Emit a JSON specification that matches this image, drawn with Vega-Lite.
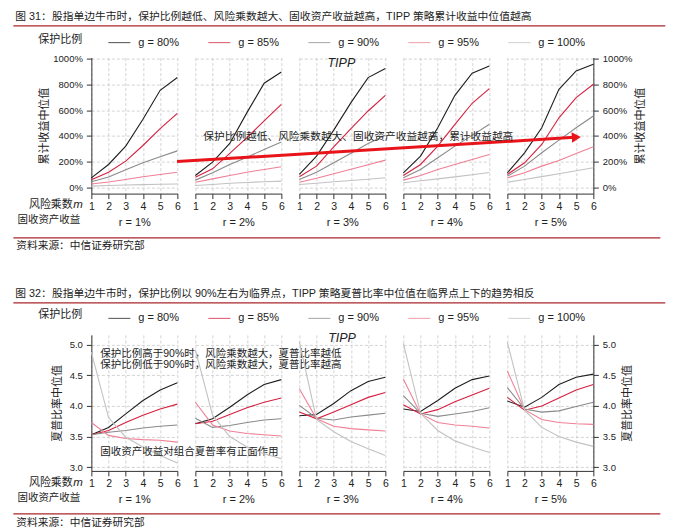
{
"$schema": "https://vega.github.io/schema/vega-lite/v6.json",
"autosize": {"type": "pad"},
"padding": {"left": 12.35, "top": 10.6, "right": 0, "bottom": 0},
"bounds": "flush",
"columns": 5,
"spacing": {"row": 141.3, "column": 18},
"resolve": {"scale": {"color": "independent"}},
"datasets": {
"cum": [
{"r":1,"g":"80%","m":1,"v":73},{"r":1,"g":"80%","m":2,"v":177},{"r":1,"g":"80%","m":3,"v":320},{"r":1,"g":"80%","m":4,"v":529},{"r":1,"g":"80%","m":5,"v":755},{"r":1,"g":"80%","m":6,"v":855},
{"r":1,"g":"85%","m":1,"v":57},{"r":1,"g":"85%","m":2,"v":117},{"r":1,"g":"85%","m":3,"v":203},{"r":1,"g":"85%","m":4,"v":325},{"r":1,"g":"85%","m":5,"v":456},{"r":1,"g":"85%","m":6,"v":575},
{"r":1,"g":"90%","m":1,"v":42},{"r":1,"g":"90%","m":2,"v":80},{"r":1,"g":"90%","m":3,"v":136},{"r":1,"g":"90%","m":4,"v":190},{"r":1,"g":"90%","m":5,"v":237},{"r":1,"g":"90%","m":6,"v":283},
{"r":1,"g":"95%","m":1,"v":25},{"r":1,"g":"95%","m":2,"v":40},{"r":1,"g":"95%","m":3,"v":60},{"r":1,"g":"95%","m":4,"v":81},{"r":1,"g":"95%","m":5,"v":99},{"r":1,"g":"95%","m":6,"v":117},
{"r":1,"g":"100%","m":1,"v":8},{"r":1,"g":"100%","m":2,"v":13},{"r":1,"g":"100%","m":3,"v":17},{"r":1,"g":"100%","m":4,"v":20},{"r":1,"g":"100%","m":5,"v":23},{"r":1,"g":"100%","m":6,"v":25},
{"r":2,"g":"80%","m":1,"v":91},{"r":2,"g":"80%","m":2,"v":195},{"r":2,"g":"80%","m":3,"v":341},{"r":2,"g":"80%","m":4,"v":581},{"r":2,"g":"80%","m":5,"v":810},{"r":2,"g":"80%","m":6,"v":898},
{"r":2,"g":"85%","m":1,"v":78},{"r":2,"g":"85%","m":2,"v":143},{"r":2,"g":"85%","m":3,"v":264},{"r":2,"g":"85%","m":4,"v":386},{"r":2,"g":"85%","m":5,"v":516},{"r":2,"g":"85%","m":6,"v":646},
{"r":2,"g":"90%","m":1,"v":55},{"r":2,"g":"90%","m":2,"v":112},{"r":2,"g":"90%","m":3,"v":177},{"r":2,"g":"90%","m":4,"v":234},{"r":2,"g":"90%","m":5,"v":294},{"r":2,"g":"90%","m":6,"v":352},
{"r":2,"g":"95%","m":1,"v":39},{"r":2,"g":"95%","m":2,"v":65},{"r":2,"g":"95%","m":3,"v":91},{"r":2,"g":"95%","m":4,"v":117},{"r":2,"g":"95%","m":5,"v":138},{"r":2,"g":"95%","m":6,"v":159},
{"r":2,"g":"100%","m":1,"v":13},{"r":2,"g":"100%","m":2,"v":21},{"r":2,"g":"100%","m":3,"v":31},{"r":2,"g":"100%","m":4,"v":37},{"r":2,"g":"100%","m":5,"v":42},{"r":2,"g":"100%","m":6,"v":47},
{"r":3,"g":"80%","m":1,"v":99},{"r":3,"g":"80%","m":2,"v":242},{"r":3,"g":"80%","m":3,"v":445},{"r":3,"g":"80%","m":4,"v":659},{"r":3,"g":"80%","m":5,"v":854},{"r":3,"g":"80%","m":6,"v":925},
{"r":3,"g":"85%","m":1,"v":81},{"r":3,"g":"85%","m":2,"v":164},{"r":3,"g":"85%","m":3,"v":315},{"r":3,"g":"85%","m":4,"v":456},{"r":3,"g":"85%","m":5,"v":594},{"r":3,"g":"85%","m":6,"v":716},
{"r":3,"g":"90%","m":1,"v":60},{"r":3,"g":"90%","m":2,"v":117},{"r":3,"g":"90%","m":3,"v":190},{"r":3,"g":"90%","m":4,"v":264},{"r":3,"g":"90%","m":5,"v":341},{"r":3,"g":"90%","m":6,"v":405},
{"r":3,"g":"95%","m":1,"v":39},{"r":3,"g":"95%","m":2,"v":70},{"r":3,"g":"95%","m":3,"v":105},{"r":3,"g":"95%","m":4,"v":140},{"r":3,"g":"95%","m":5,"v":175},{"r":3,"g":"95%","m":6,"v":211},
{"r":3,"g":"100%","m":1,"v":21},{"r":3,"g":"100%","m":2,"v":31},{"r":3,"g":"100%","m":3,"v":42},{"r":3,"g":"100%","m":4,"v":52},{"r":3,"g":"100%","m":5,"v":62},{"r":3,"g":"100%","m":6,"v":73},
{"r":4,"g":"80%","m":1,"v":112},{"r":4,"g":"80%","m":2,"v":242},{"r":4,"g":"80%","m":3,"v":463},{"r":4,"g":"80%","m":4,"v":716},{"r":4,"g":"80%","m":5,"v":888},{"r":4,"g":"80%","m":6,"v":945},
{"r":4,"g":"85%","m":1,"v":91},{"r":4,"g":"85%","m":2,"v":177},{"r":4,"g":"85%","m":3,"v":320},{"r":4,"g":"85%","m":4,"v":490},{"r":4,"g":"85%","m":5,"v":654},{"r":4,"g":"85%","m":6,"v":768},
{"r":4,"g":"90%","m":1,"v":73},{"r":4,"g":"90%","m":2,"v":138},{"r":4,"g":"90%","m":3,"v":230},{"r":4,"g":"90%","m":4,"v":320},{"r":4,"g":"90%","m":5,"v":404},{"r":4,"g":"90%","m":6,"v":490},
{"r":4,"g":"95%","m":1,"v":55},{"r":4,"g":"95%","m":2,"v":91},{"r":4,"g":"95%","m":3,"v":138},{"r":4,"g":"95%","m":4,"v":177},{"r":4,"g":"95%","m":5,"v":216},{"r":4,"g":"95%","m":6,"v":255},
{"r":4,"g":"100%","m":1,"v":34},{"r":4,"g":"100%","m":2,"v":50},{"r":4,"g":"100%","m":3,"v":65},{"r":4,"g":"100%","m":4,"v":80},{"r":4,"g":"100%","m":5,"v":97},{"r":4,"g":"100%","m":6,"v":115},
{"r":5,"g":"80%","m":1,"v":112},{"r":5,"g":"80%","m":2,"v":268},{"r":5,"g":"80%","m":3,"v":463},{"r":5,"g":"80%","m":4,"v":763},{"r":5,"g":"80%","m":5,"v":906},{"r":5,"g":"80%","m":6,"v":958},
{"r":5,"g":"85%","m":1,"v":99},{"r":5,"g":"85%","m":2,"v":190},{"r":5,"g":"85%","m":3,"v":333},{"r":5,"g":"85%","m":4,"v":541},{"r":5,"g":"85%","m":5,"v":698},{"r":5,"g":"85%","m":6,"v":802},
{"r":5,"g":"90%","m":1,"v":86},{"r":5,"g":"90%","m":2,"v":164},{"r":5,"g":"90%","m":3,"v":268},{"r":5,"g":"90%","m":4,"v":367},{"r":5,"g":"90%","m":5,"v":463},{"r":5,"g":"90%","m":6,"v":555},
{"r":5,"g":"95%","m":1,"v":73},{"r":5,"g":"95%","m":2,"v":112},{"r":5,"g":"95%","m":3,"v":164},{"r":5,"g":"95%","m":4,"v":208},{"r":5,"g":"95%","m":5,"v":263},{"r":5,"g":"95%","m":6,"v":315},
{"r":5,"g":"100%","m":1,"v":39},{"r":5,"g":"100%","m":2,"v":60},{"r":5,"g":"100%","m":3,"v":82},{"r":5,"g":"100%","m":4,"v":105},{"r":5,"g":"100%","m":5,"v":128},{"r":5,"g":"100%","m":6,"v":151}
],
"sharpe": [
{"r":1,"g":"80%","m":1,"v":3.53},{"r":1,"g":"80%","m":2,"v":3.65},{"r":1,"g":"80%","m":3,"v":3.87},{"r":1,"g":"80%","m":4,"v":4.09},{"r":1,"g":"80%","m":5,"v":4.26},{"r":1,"g":"80%","m":6,"v":4.38},
{"r":1,"g":"85%","m":1,"v":3.53},{"r":1,"g":"85%","m":2,"v":3.60},{"r":1,"g":"85%","m":3,"v":3.73},{"r":1,"g":"85%","m":4,"v":3.85},{"r":1,"g":"85%","m":5,"v":3.95},{"r":1,"g":"85%","m":6,"v":4.03},
{"r":1,"g":"90%","m":1,"v":3.53},{"r":1,"g":"90%","m":2,"v":3.57},{"r":1,"g":"90%","m":3,"v":3.60},{"r":1,"g":"90%","m":4,"v":3.64},{"r":1,"g":"90%","m":5,"v":3.67},{"r":1,"g":"90%","m":6,"v":3.69},
{"r":1,"g":"95%","m":1,"v":3.73},{"r":1,"g":"95%","m":2,"v":3.52},{"r":1,"g":"95%","m":3,"v":3.47},{"r":1,"g":"95%","m":4,"v":3.45},{"r":1,"g":"95%","m":5,"v":3.44},{"r":1,"g":"95%","m":6,"v":3.41},
{"r":1,"g":"100%","m":1,"v":4.88},{"r":1,"g":"100%","m":2,"v":3.81},{"r":1,"g":"100%","m":3,"v":3.49},{"r":1,"g":"100%","m":4,"v":3.33},{"r":1,"g":"100%","m":5,"v":3.19},{"r":1,"g":"100%","m":6,"v":3.07},
{"r":2,"g":"80%","m":1,"v":3.71},{"r":2,"g":"80%","m":2,"v":3.79},{"r":2,"g":"80%","m":3,"v":3.98},{"r":2,"g":"80%","m":4,"v":4.18},{"r":2,"g":"80%","m":5,"v":4.35},{"r":2,"g":"80%","m":6,"v":4.43},
{"r":2,"g":"85%","m":1,"v":3.71},{"r":2,"g":"85%","m":2,"v":3.75},{"r":2,"g":"85%","m":3,"v":3.86},{"r":2,"g":"85%","m":4,"v":3.97},{"r":2,"g":"85%","m":5,"v":4.06},{"r":2,"g":"85%","m":6,"v":4.13},
{"r":2,"g":"90%","m":1,"v":3.80},{"r":2,"g":"90%","m":2,"v":3.65},{"r":2,"g":"90%","m":3,"v":3.68},{"r":2,"g":"90%","m":4,"v":3.73},{"r":2,"g":"90%","m":5,"v":3.77},{"r":2,"g":"90%","m":6,"v":3.79},
{"r":2,"g":"95%","m":1,"v":4.06},{"r":2,"g":"95%","m":2,"v":3.69},{"r":2,"g":"95%","m":3,"v":3.59},{"r":2,"g":"95%","m":4,"v":3.55},{"r":2,"g":"95%","m":5,"v":3.53},{"r":2,"g":"95%","m":6,"v":3.51},
{"r":2,"g":"100%","m":1,"v":4.92},{"r":2,"g":"100%","m":2,"v":3.85},{"r":2,"g":"100%","m":3,"v":3.50},{"r":2,"g":"100%","m":4,"v":3.33},{"r":2,"g":"100%","m":5,"v":3.22},{"r":2,"g":"100%","m":6,"v":3.14},
{"r":3,"g":"80%","m":1,"v":3.84},{"r":3,"g":"80%","m":2,"v":3.86},{"r":3,"g":"80%","m":3,"v":4.04},{"r":3,"g":"80%","m":4,"v":4.25},{"r":3,"g":"80%","m":5,"v":4.40},{"r":3,"g":"80%","m":6,"v":4.47},
{"r":3,"g":"85%","m":1,"v":3.90},{"r":3,"g":"85%","m":2,"v":3.79},{"r":3,"g":"85%","m":3,"v":3.90},{"r":3,"g":"85%","m":4,"v":4.02},{"r":3,"g":"85%","m":5,"v":4.14},{"r":3,"g":"85%","m":6,"v":4.22},
{"r":3,"g":"90%","m":1,"v":4.01},{"r":3,"g":"90%","m":2,"v":3.80},{"r":3,"g":"90%","m":3,"v":3.77},{"r":3,"g":"90%","m":4,"v":3.82},{"r":3,"g":"90%","m":5,"v":3.85},{"r":3,"g":"90%","m":6,"v":3.88},
{"r":3,"g":"95%","m":1,"v":4.28},{"r":3,"g":"95%","m":2,"v":3.79},{"r":3,"g":"95%","m":3,"v":3.67},{"r":3,"g":"95%","m":4,"v":3.63},{"r":3,"g":"95%","m":5,"v":3.61},{"r":3,"g":"95%","m":6,"v":3.59},
{"r":3,"g":"100%","m":1,"v":5.05},{"r":3,"g":"100%","m":2,"v":3.78},{"r":3,"g":"100%","m":3,"v":3.58},{"r":3,"g":"100%","m":4,"v":3.42},{"r":3,"g":"100%","m":5,"v":3.30},{"r":3,"g":"100%","m":6,"v":3.19},
{"r":4,"g":"80%","m":1,"v":3.95},{"r":4,"g":"80%","m":2,"v":3.91},{"r":4,"g":"80%","m":3,"v":4.09},{"r":4,"g":"80%","m":4,"v":4.29},{"r":4,"g":"80%","m":5,"v":4.43},{"r":4,"g":"80%","m":6,"v":4.49},
{"r":4,"g":"85%","m":1,"v":4.02},{"r":4,"g":"85%","m":2,"v":3.87},{"r":4,"g":"85%","m":3,"v":3.94},{"r":4,"g":"85%","m":4,"v":4.07},{"r":4,"g":"85%","m":5,"v":4.18},{"r":4,"g":"85%","m":6,"v":4.29},
{"r":4,"g":"90%","m":1,"v":4.17},{"r":4,"g":"90%","m":2,"v":3.88},{"r":4,"g":"90%","m":3,"v":3.83},{"r":4,"g":"90%","m":4,"v":3.87},{"r":4,"g":"90%","m":5,"v":3.91},{"r":4,"g":"90%","m":6,"v":3.97},
{"r":4,"g":"95%","m":1,"v":4.44},{"r":4,"g":"95%","m":2,"v":3.87},{"r":4,"g":"95%","m":3,"v":3.73},{"r":4,"g":"95%","m":4,"v":3.69},{"r":4,"g":"95%","m":5,"v":3.67},{"r":4,"g":"95%","m":6,"v":3.64},
{"r":4,"g":"100%","m":1,"v":5.02},{"r":4,"g":"100%","m":2,"v":3.88},{"r":4,"g":"100%","m":3,"v":3.60},{"r":4,"g":"100%","m":4,"v":3.43},{"r":4,"g":"100%","m":5,"v":3.33},{"r":4,"g":"100%","m":6,"v":3.24},
{"r":5,"g":"80%","m":1,"v":4.08},{"r":5,"g":"80%","m":2,"v":3.98},{"r":5,"g":"80%","m":3,"v":4.14},{"r":5,"g":"80%","m":4,"v":4.35},{"r":5,"g":"80%","m":5,"v":4.47},{"r":5,"g":"80%","m":6,"v":4.52},
{"r":5,"g":"85%","m":1,"v":4.14},{"r":5,"g":"85%","m":2,"v":3.93},{"r":5,"g":"85%","m":3,"v":4.00},{"r":5,"g":"85%","m":4,"v":4.13},{"r":5,"g":"85%","m":5,"v":4.26},{"r":5,"g":"85%","m":6,"v":4.35},
{"r":5,"g":"90%","m":1,"v":4.30},{"r":5,"g":"90%","m":2,"v":3.95},{"r":5,"g":"90%","m":3,"v":3.90},{"r":5,"g":"90%","m":4,"v":3.92},{"r":5,"g":"90%","m":5,"v":3.99},{"r":5,"g":"90%","m":6,"v":4.06},
{"r":5,"g":"95%","m":1,"v":4.57},{"r":5,"g":"95%","m":2,"v":3.94},{"r":5,"g":"95%","m":3,"v":3.78},{"r":5,"g":"95%","m":4,"v":3.73},{"r":5,"g":"95%","m":5,"v":3.71},{"r":5,"g":"95%","m":6,"v":3.70},
{"r":5,"g":"100%","m":1,"v":5.04},{"r":5,"g":"100%","m":2,"v":3.93},{"r":5,"g":"100%","m":3,"v":3.65},{"r":5,"g":"100%","m":4,"v":3.50},{"r":5,"g":"100%","m":5,"v":3.41},{"r":5,"g":"100%","m":6,"v":3.34}
]
},
"concat": [
{
 "width": 86, "height": 136,
 "layer": [
  {
   "data": {"name": "cum"},
   "transform": [{"filter": "datum.r == 1"}],
   "mark": {"type": "line"},
   "encoding": {
    "x": {"field": "m", "type": "quantitative", "scale": {"domain": [1, 6], "nice": false}, "axis": {"values": [1,2,3,4,5,6], "format": "d", "grid": true, "labelOverlap": false, "title": "r = 1%"}},
    "y": {"field": "v", "type": "quantitative", "scale": {"domain": [-50, 1010], "nice": false}, "axis": {"values": [0,200,400,600,800,1000], "labelExpr": "datum.value + '%'", "grid": true, "labelOverlap": false, "title": "累计收益中位值", "titlePadding": 3}},
    "color": {"field": "g", "type": "nominal", "scale": {"domain": ["80%","85%","90%","95%","100%"], "range": ["#1e1e1e","#d6203e","#8a8a8a","#f07f95","#c2c2c2"]},
     "legend": {"orient": "none", "legendX": -53, "legendY": -27, "direction": "horizontal", "title": "保护比例", "titleOrient": "left", "titlePadding": 25, "titleFontSize": 11, "titleFontWeight": "normal", "titleColor": "#222222", "labelFontSize": 11, "labelColor": "#222222", "labelOffset": 7, "labelExpr": "'g = ' + datum.label", "symbolType": "stroke", "symbolSize": 484, "symbolStrokeWidth": 2, "symbolOpacity": 0.7, "columnPadding": 26}}
   }
  },
  {"data": {"values": [{"t": "图 31：股指单边牛市时，保护比例越低、风险乘数越大、固收资产收益越高，TIPP 策略累计收益中位值越高"}]},
   "mark": {"type": "text", "align": "left", "baseline": "middle", "fontSize": 10.8},
   "encoding": {"x": {"datum": -3.419, "axis": {"values": [1,2,3,4,5,6], "format": "d", "grid": true, "labelOverlap": false, "title": "r = 1%"}}, "y": {"datum": 1327.2, "axis": {"values": [0,200,400,600,800,1000], "labelExpr": "datum.value + '%'", "grid": true, "labelOverlap": false, "title": "累计收益中位值", "titlePadding": 3}}, "text": {"field": "t"}}},
  {"data": {"values": [{"t": "rule"}]},
   "mark": {"type": "rule", "color": "#a8262b", "strokeWidth": 1.3},
   "encoding": {"x": {"datum": -3.535, "axis": {"values": [1,2,3,4,5,6], "format": "d", "grid": true, "labelOverlap": false, "title": "r = 1%"}}, "x2": {"datum": 34.37}, "y": {"datum": 1257.1, "axis": {"values": [0,200,400,600,800,1000], "labelExpr": "datum.value + '%'", "grid": true, "labelOverlap": false, "title": "累计收益中位值", "titlePadding": 3}}}},
  {"data": {"values": [{"t": "rule"}]},
   "mark": {"type": "rule", "color": "#a8262b", "strokeWidth": 1.3},
   "encoding": {"x": {"datum": -3.535, "axis": {"values": [1,2,3,4,5,6], "format": "d", "grid": true, "labelOverlap": false, "title": "r = 1%"}}, "x2": {"datum": 34.08}, "y": {"datum": -395.3, "axis": {"values": [0,200,400,600,800,1000], "labelExpr": "datum.value + '%'", "grid": true, "labelOverlap": false, "title": "累计收益中位值", "titlePadding": 3}}}},
  {"data": {"values": [{"t": "资料来源：中信证券研究部"}]},
   "mark": {"type": "text", "align": "left", "baseline": "middle", "fontSize": 10.7},
   "encoding": {"x": {"datum": -3.36, "axis": {"values": [1,2,3,4,5,6], "format": "d", "grid": true, "labelOverlap": false, "title": "r = 1%"}}, "y": {"datum": -457.6, "axis": {"values": [0,200,400,600,800,1000], "labelExpr": "datum.value + '%'", "grid": true, "labelOverlap": false, "title": "累计收益中位值", "titlePadding": 3}}, "text": {"field": "t"}}},
  {"data": {"values": [{"t": "风险乘数"}]},
   "mark": {"type": "text", "align": "right", "baseline": "middle", "fontSize": 11},
   "encoding": {"x": {"datum": -0.0756, "axis": {"values": [1,2,3,4,5,6], "format": "d", "grid": true, "labelOverlap": false, "title": "r = 1%"}}, "y": {"datum": -142, "axis": {"values": [0,200,400,600,800,1000], "labelExpr": "datum.value + '%'", "grid": true, "labelOverlap": false, "title": "累计收益中位值", "titlePadding": 3}}, "text": {"field": "t"}}},
  {"data": {"values": [{"t": "m"}]},
   "mark": {"type": "text", "align": "left", "baseline": "middle", "fontSize": 11.5, "fontStyle": "italic"},
   "encoding": {"x": {"datum": -0.0465, "axis": {"values": [1,2,3,4,5,6], "format": "d", "grid": true, "labelOverlap": false, "title": "r = 1%"}}, "y": {"datum": -142, "axis": {"values": [0,200,400,600,800,1000], "labelExpr": "datum.value + '%'", "grid": true, "labelOverlap": false, "title": "累计收益中位值", "titlePadding": 3}}, "text": {"field": "t"}}},
  {"data": {"values": [{"t": "固收资产收益"}]},
   "mark": {"type": "text", "align": "right", "baseline": "middle", "fontSize": 10.5},
   "encoding": {"x": {"datum": 0.36, "axis": {"values": [1,2,3,4,5,6], "format": "d", "grid": true, "labelOverlap": false, "title": "r = 1%"}}, "y": {"datum": -259, "axis": {"values": [0,200,400,600,800,1000], "labelExpr": "datum.value + '%'", "grid": true, "labelOverlap": false, "title": "累计收益中位值", "titlePadding": 3}}, "text": {"field": "t"}}}
 ]
},
{
 "width": 86, "height": 136,
 "data": {"name": "cum"},
 "transform": [{"filter": "datum.r == 2"}],
 "mark": {"type": "line"},
 "encoding": {
  "x": {"field": "m", "type": "quantitative", "scale": {"domain": [1, 6], "nice": false}, "axis": {"values": [1,2,3,4,5,6], "format": "d", "grid": true, "labelOverlap": false, "title": "r = 2%"}},
  "y": {"field": "v", "type": "quantitative", "scale": {"domain": [-50, 1010], "nice": false}, "axis": {"values": [0,200,400,600,800,1000], "grid": true, "labels": false, "ticks": false, "domain": false, "title": null}},
  "color": {"field": "g", "type": "nominal", "scale": {"domain": ["80%","85%","90%","95%","100%"], "range": ["#1e1e1e","#d6203e","#8a8a8a","#f07f95","#c2c2c2"]}, "legend": null}
 }
},
{
 "width": 86, "height": 136,
 "layer": [
  {
   "data": {"name": "cum"},
   "transform": [{"filter": "datum.r == 3"}],
   "mark": {"type": "line"},
   "encoding": {
    "x": {"field": "m", "type": "quantitative", "scale": {"domain": [1, 6], "nice": false}, "axis": {"values": [1,2,3,4,5,6], "format": "d", "grid": true, "labelOverlap": false, "title": "r = 3%"}},
    "y": {"field": "v", "type": "quantitative", "scale": {"domain": [-50, 1010], "nice": false}, "axis": {"values": [0,200,400,600,800,1000], "grid": true, "labels": false, "ticks": false, "domain": false, "title": null}},
    "color": {"field": "g", "type": "nominal", "scale": {"domain": ["80%","85%","90%","95%","100%"], "range": ["#1e1e1e","#d6203e","#8a8a8a","#f07f95","#c2c2c2"]}, "legend": null}
   }
  },
  {"data": {"values": [{"t": "TIPP"}]},
   "mark": {"type": "text", "align": "center", "baseline": "middle", "fontSize": 12.5, "fontStyle": "italic"},
   "encoding": {"x": {"datum": 3.442, "axis": {"values": [1,2,3,4,5,6], "format": "d", "grid": true, "labelOverlap": false, "title": "r = 3%"}}, "y": {"datum": 968.7, "axis": {"values": [0,200,400,600,800,1000], "grid": true, "labels": false, "ticks": false, "domain": false, "title": null}}, "text": {"field": "t"}}}
 ]
},
{
 "width": 86, "height": 136,
 "data": {"name": "cum"},
 "transform": [{"filter": "datum.r == 4"}],
 "mark": {"type": "line"},
 "encoding": {
  "x": {"field": "m", "type": "quantitative", "scale": {"domain": [1, 6], "nice": false}, "axis": {"values": [1,2,3,4,5,6], "format": "d", "grid": true, "labelOverlap": false, "title": "r = 4%"}},
  "y": {"field": "v", "type": "quantitative", "scale": {"domain": [-50, 1010], "nice": false}, "axis": {"values": [0,200,400,600,800,1000], "grid": true, "labels": false, "ticks": false, "domain": false, "title": null}},
  "color": {"field": "g", "type": "nominal", "scale": {"domain": ["80%","85%","90%","95%","100%"], "range": ["#1e1e1e","#d6203e","#8a8a8a","#f07f95","#c2c2c2"]}, "legend": null}
 }
},
{
 "width": 86, "height": 136,
 "layer": [
  {
   "data": {"name": "cum"},
   "transform": [{"filter": "datum.r == 5"}],
   "mark": {"type": "line"},
   "encoding": {
    "x": {"field": "m", "type": "quantitative", "scale": {"domain": [1, 6], "nice": false}, "axis": {"values": [1,2,3,4,5,6], "format": "d", "grid": true, "labelOverlap": false, "title": "r = 5%"}},
    "y": {"field": "v", "type": "quantitative", "scale": {"domain": [-50, 1010], "nice": false}, "axis": {"orient": "right", "values": [0,200,400,600,800,1000], "labelExpr": "datum.value + '%'", "grid": true, "labelOverlap": false, "title": "累计收益中位值", "titleAngle": 270, "titleBaseline": "top", "titlePadding": 3}},
    "color": {"field": "g", "type": "nominal", "scale": {"domain": ["80%","85%","90%","95%","100%"], "range": ["#1e1e1e","#d6203e","#8a8a8a","#f07f95","#c2c2c2"]}, "legend": null}
   }
  },
  {"data": {"values": [{"t": "arrow"}]},
   "mark": {"type": "rule", "color": "#e8141a", "strokeWidth": 3},
   "encoding": {"x": {"datum": -18.203, "axis": {"values": [1,2,3,4,5,6], "format": "d", "grid": true, "labelOverlap": false, "title": "r = 5%"}}, "y": {"datum": 199.4, "axis": {"orient": "right", "values": [0,200,400,600,800,1000], "labelExpr": "datum.value + '%'", "grid": true, "labelOverlap": false, "title": "累计收益中位值", "titleAngle": 270, "titleBaseline": "top", "titlePadding": 3}}, "x2": {"datum": 4.895}, "y2": {"datum": 388.3}}},
  {"data": {"values": [{"t": "arrow"}]},
   "mark": {"type": "point", "shape": "triangle-right", "filled": true, "color": "#e8141a", "opacity": 1, "size": 110, "angle": -3.5},
   "encoding": {"x": {"datum": 5.012, "axis": {"values": [1,2,3,4,5,6], "format": "d", "grid": true, "labelOverlap": false, "title": "r = 5%"}}, "y": {"datum": 389.3, "axis": {"orient": "right", "values": [0,200,400,600,800,1000], "labelExpr": "datum.value + '%'", "grid": true, "labelOverlap": false, "title": "累计收益中位值", "titleAngle": 270, "titleBaseline": "top", "titlePadding": 3}}}},
  {"data": {"values": [{"t": "保护比例越低、风险乘数越大、固收资产收益越高，累计收益越高"}]},
   "mark": {"type": "text", "align": "left", "baseline": "middle", "fontSize": 10.7},
   "encoding": {"x": {"datum": -16.674, "axis": {"values": [1,2,3,4,5,6], "format": "d", "grid": true, "labelOverlap": false, "title": "r = 5%"}}, "y": {"datum": 394.3, "axis": {"orient": "right", "values": [0,200,400,600,800,1000], "labelExpr": "datum.value + '%'", "grid": true, "labelOverlap": false, "title": "累计收益中位值", "titleAngle": 270, "titleBaseline": "top", "titlePadding": 3}}, "text": {"field": "t"}}}
 ]
},
{
 "width": 86, "height": 136,
 "layer": [
  {
   "data": {"name": "sharpe"},
   "transform": [{"filter": "datum.r == 1"}],
   "mark": {"type": "line"},
   "encoding": {
    "x": {"field": "m", "type": "quantitative", "scale": {"domain": [1, 6], "nice": false}, "axis": {"values": [1,2,3,4,5,6], "format": "d", "grid": true, "labelOverlap": false, "title": "r = 1%"}},
    "y": {"field": "v", "type": "quantitative", "scale": {"domain": [2.94, 5.16], "nice": false}, "axis": {"values": [3,3.5,4,4.5,5], "format": ".1f", "grid": true, "labelOverlap": false, "title": "夏普比率中位值", "titlePadding": 7}},
    "color": {"field": "g", "type": "nominal", "scale": {"domain": ["80%","85%","90%","95%","100%"], "range": ["#1e1e1e","#d6203e","#8a8a8a","#f07f95","#c2c2c2"]},
     "legend": {"orient": "none", "legendX": -53, "legendY": -28.5, "direction": "horizontal", "title": "保护比例", "titleOrient": "left", "titlePadding": 25, "titleFontSize": 11, "titleFontWeight": "normal", "titleColor": "#222222", "labelFontSize": 11, "labelColor": "#222222", "labelOffset": 7, "labelExpr": "'g = ' + datum.label", "symbolType": "stroke", "symbolSize": 484, "symbolStrokeWidth": 2, "symbolOpacity": 0.7, "columnPadding": 26}}
   }
  },
  {"data": {"values": [{"t": "图 32：股指单边牛市时，保护比例以 90%左右为临界点，TIPP 策略夏普比率中位值在临界点上下的趋势相反"}]},
   "mark": {"type": "text", "align": "left", "baseline": "middle", "fontSize": 10.8},
   "encoding": {"x": {"datum": -3.419, "axis": {"values": [1,2,3,4,5,6], "format": "d", "grid": true, "labelOverlap": false, "title": "r = 1%"}}, "y": {"datum": 5.829, "axis": {"values": [3,3.5,4,4.5,5], "format": ".1f", "grid": true, "labelOverlap": false, "title": "夏普比率中位值", "titlePadding": 7}}, "text": {"field": "t"}}},
  {"data": {"values": [{"t": "rule"}]},
   "mark": {"type": "rule", "color": "#a8262b", "strokeWidth": 1.3},
   "encoding": {"x": {"datum": -3.535, "axis": {"values": [1,2,3,4,5,6], "format": "d", "grid": true, "labelOverlap": false, "title": "r = 1%"}}, "x2": {"datum": 34.37}, "y": {"datum": 5.682, "axis": {"values": [3,3.5,4,4.5,5], "format": ".1f", "grid": true, "labelOverlap": false, "title": "夏普比率中位值", "titlePadding": 7}}}},
  {"data": {"values": [{"t": "rule"}]},
   "mark": {"type": "rule", "color": "#a8262b", "strokeWidth": 1.3},
   "encoding": {"x": {"datum": -3.535, "axis": {"values": [1,2,3,4,5,6], "format": "d", "grid": true, "labelOverlap": false, "title": "r = 1%"}}, "x2": {"datum": 34.08}, "y": {"datum": 2.238, "axis": {"values": [3,3.5,4,4.5,5], "format": ".1f", "grid": true, "labelOverlap": false, "title": "夏普比率中位值", "titlePadding": 7}}}},
  {"data": {"values": [{"t": "资料来源：中信证券研究部"}]},
   "mark": {"type": "text", "align": "left", "baseline": "middle", "fontSize": 10.7},
   "encoding": {"x": {"datum": -3.36, "axis": {"values": [1,2,3,4,5,6], "format": "d", "grid": true, "labelOverlap": false, "title": "r = 1%"}}, "y": {"datum": 2.091, "axis": {"values": [3,3.5,4,4.5,5], "format": ".1f", "grid": true, "labelOverlap": false, "title": "夏普比率中位值", "titlePadding": 7}}, "text": {"field": "t"}}},
  {"data": {"values": [{"t": "风险乘数"}]},
   "mark": {"type": "text", "align": "right", "baseline": "middle", "fontSize": 11},
   "encoding": {"x": {"datum": -0.0756, "axis": {"values": [1,2,3,4,5,6], "format": "d", "grid": true, "labelOverlap": false, "title": "r = 1%"}}, "y": {"datum": 2.744, "axis": {"values": [3,3.5,4,4.5,5], "format": ".1f", "grid": true, "labelOverlap": false, "title": "夏普比率中位值", "titlePadding": 7}}, "text": {"field": "t"}}},
  {"data": {"values": [{"t": "m"}]},
   "mark": {"type": "text", "align": "left", "baseline": "middle", "fontSize": 11.5, "fontStyle": "italic"},
   "encoding": {"x": {"datum": -0.0465, "axis": {"values": [1,2,3,4,5,6], "format": "d", "grid": true, "labelOverlap": false, "title": "r = 1%"}}, "y": {"datum": 2.744, "axis": {"values": [3,3.5,4,4.5,5], "format": ".1f", "grid": true, "labelOverlap": false, "title": "夏普比率中位值", "titlePadding": 7}}, "text": {"field": "t"}}},
  {"data": {"values": [{"t": "固收资产收益"}]},
   "mark": {"type": "text", "align": "right", "baseline": "middle", "fontSize": 10.5},
   "encoding": {"x": {"datum": 0.36, "axis": {"values": [1,2,3,4,5,6], "format": "d", "grid": true, "labelOverlap": false, "title": "r = 1%"}}, "y": {"datum": 2.499, "axis": {"values": [3,3.5,4,4.5,5], "format": ".1f", "grid": true, "labelOverlap": false, "title": "夏普比率中位值", "titlePadding": 7}}, "text": {"field": "t"}}},
  {"data": {"values": [{"t": "保护比例高于90%时，风险乘数越大，夏普比率越低"}]},
   "mark": {"type": "text", "align": "left", "baseline": "middle", "fontSize": 10.5},
   "encoding": {"x": {"datum": 1.523, "axis": {"values": [1,2,3,4,5,6], "format": "d", "grid": true, "labelOverlap": false, "title": "r = 1%"}}, "y": {"datum": 4.845, "axis": {"values": [3,3.5,4,4.5,5], "format": ".1f", "grid": true, "labelOverlap": false, "title": "夏普比率中位值", "titlePadding": 7}}, "text": {"field": "t"}}},
  {"data": {"values": [{"t": "保护比例低于90%时，风险乘数越大，夏普比率越高"}]},
   "mark": {"type": "text", "align": "left", "baseline": "middle", "fontSize": 10.5},
   "encoding": {"x": {"datum": 1.523, "axis": {"values": [1,2,3,4,5,6], "format": "d", "grid": true, "labelOverlap": false, "title": "r = 1%"}}, "y": {"datum": 4.665, "axis": {"values": [3,3.5,4,4.5,5], "format": ".1f", "grid": true, "labelOverlap": false, "title": "夏普比率中位值", "titlePadding": 7}}, "text": {"field": "t"}}},
  {"data": {"values": [{"t": "固收资产收益对组合夏普率有正面作用"}]},
   "mark": {"type": "text", "align": "left", "baseline": "middle", "fontSize": 10.5},
   "encoding": {"x": {"datum": 1.523, "axis": {"values": [1,2,3,4,5,6], "format": "d", "grid": true, "labelOverlap": false, "title": "r = 1%"}}, "y": {"datum": 3.25, "axis": {"values": [3,3.5,4,4.5,5], "format": ".1f", "grid": true, "labelOverlap": false, "title": "夏普比率中位值", "titlePadding": 7}}, "text": {"field": "t"}}}
 ]
},
{
 "width": 86, "height": 136,
 "data": {"name": "sharpe"},
 "transform": [{"filter": "datum.r == 2"}],
 "mark": {"type": "line"},
 "encoding": {
  "x": {"field": "m", "type": "quantitative", "scale": {"domain": [1, 6], "nice": false}, "axis": {"values": [1,2,3,4,5,6], "format": "d", "grid": true, "labelOverlap": false, "title": "r = 2%"}},
  "y": {"field": "v", "type": "quantitative", "scale": {"domain": [2.94, 5.16], "nice": false}, "axis": {"values": [3,3.5,4,4.5,5], "grid": true, "labels": false, "ticks": false, "domain": false, "title": null}},
  "color": {"field": "g", "type": "nominal", "scale": {"domain": ["80%","85%","90%","95%","100%"], "range": ["#1e1e1e","#d6203e","#8a8a8a","#f07f95","#c2c2c2"]}, "legend": null}
 }
},
{
 "width": 86, "height": 136,
 "layer": [
  {
   "data": {"name": "sharpe"},
   "transform": [{"filter": "datum.r == 3"}],
   "mark": {"type": "line"},
   "encoding": {
    "x": {"field": "m", "type": "quantitative", "scale": {"domain": [1, 6], "nice": false}, "axis": {"values": [1,2,3,4,5,6], "format": "d", "grid": true, "labelOverlap": false, "title": "r = 3%"}},
    "y": {"field": "v", "type": "quantitative", "scale": {"domain": [2.94, 5.16], "nice": false}, "axis": {"values": [3,3.5,4,4.5,5], "grid": true, "labels": false, "ticks": false, "domain": false, "title": null}},
    "color": {"field": "g", "type": "nominal", "scale": {"domain": ["80%","85%","90%","95%","100%"], "range": ["#1e1e1e","#d6203e","#8a8a8a","#f07f95","#c2c2c2"]}, "legend": null}
   }
  },
  {"data": {"values": [{"t": "TIPP"}]},
   "mark": {"type": "text", "align": "center", "baseline": "middle", "fontSize": 12.5, "fontStyle": "italic"},
   "encoding": {"x": {"datum": 3.483, "axis": {"values": [1,2,3,4,5,6], "format": "d", "grid": true, "labelOverlap": false, "title": "r = 3%"}}, "y": {"datum": 5.106, "axis": {"values": [3,3.5,4,4.5,5], "grid": true, "labels": false, "ticks": false, "domain": false, "title": null}}, "text": {"field": "t"}}}
 ]
},
{
 "width": 86, "height": 136,
 "data": {"name": "sharpe"},
 "transform": [{"filter": "datum.r == 4"}],
 "mark": {"type": "line"},
 "encoding": {
  "x": {"field": "m", "type": "quantitative", "scale": {"domain": [1, 6], "nice": false}, "axis": {"values": [1,2,3,4,5,6], "format": "d", "grid": true, "labelOverlap": false, "title": "r = 4%"}},
  "y": {"field": "v", "type": "quantitative", "scale": {"domain": [2.94, 5.16], "nice": false}, "axis": {"values": [3,3.5,4,4.5,5], "grid": true, "labels": false, "ticks": false, "domain": false, "title": null}},
  "color": {"field": "g", "type": "nominal", "scale": {"domain": ["80%","85%","90%","95%","100%"], "range": ["#1e1e1e","#d6203e","#8a8a8a","#f07f95","#c2c2c2"]}, "legend": null}
 }
},
{
 "width": 86, "height": 136,
 "data": {"name": "sharpe"},
 "transform": [{"filter": "datum.r == 5"}],
 "mark": {"type": "line"},
 "encoding": {
  "x": {"field": "m", "type": "quantitative", "scale": {"domain": [1, 6], "nice": false}, "axis": {"values": [1,2,3,4,5,6], "format": "d", "grid": true, "labelOverlap": false, "title": "r = 5%"}},
  "y": {"field": "v", "type": "quantitative", "scale": {"domain": [2.94, 5.16], "nice": false}, "axis": {"orient": "right", "values": [3,3.5,4,4.5,5], "format": ".1f", "grid": true, "labelOverlap": false, "title": "夏普比率中位值", "titleAngle": 270, "titleBaseline": "top", "titlePadding": 6}},
  "color": {"field": "g", "type": "nominal", "scale": {"domain": ["80%","85%","90%","95%","100%"], "range": ["#1e1e1e","#d6203e","#8a8a8a","#f07f95","#c2c2c2"]}, "legend": null}
 }
}
],
"config": {
 "font": "Liberation Sans, Noto Sans CJK SC",
 "view": {"stroke": null},
 "axis": {"gridColor": "#c8c8c8", "gridDash": [3, 2], "gridWidth": 0.8, "domainColor": "#333333", "tickColor": "#333333", "tickSize": 5, "labelColor": "#222222", "labelFontSize": 10.5, "titleColor": "#222222", "titleFontSize": 11, "titleFontWeight": "normal", "labelFlush": false, "labelOverlap": false, "labelBound": false},
 "axisX": {"labelPadding": 3},
 "axisY": {"labelFontSize": 9.5, "labelPadding": 4},
 "line": {"strokeWidth": 1.1},
 "text": {"color": "#222222"}
}
}
